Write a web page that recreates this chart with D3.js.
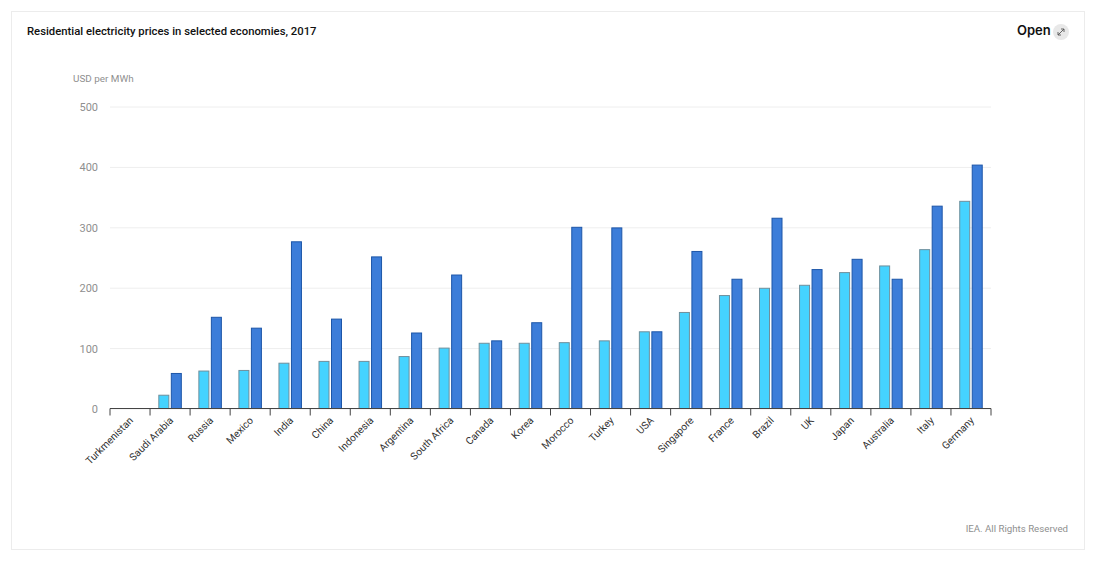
<!DOCTYPE html>
<html>
<head>
<meta charset="utf-8">
<script src="https://cdn.jsdelivr.net/npm/d3@7"></script>
<style>
html, body { margin: 0; padding: 0; background: #fff; }
svg { display: block; font-family: Roboto, "Noto Sans", sans-serif; }
</style>
</head>
<body>
<svg id="chart" width="1100" height="567"></svg>
<script>
var categories = ['Turkmenistan', 'Saudi Arabia', 'Russia', 'Mexico', 'India', 'China', 'Indonesia',
    'Argentina', 'South Africa', 'Canada', 'Korea', 'Morocco', 'Turkey', 'USA', 'Singapore',
    'France', 'Brazil', 'UK', 'Japan', 'Australia', 'Italy', 'Germany'];
var lightValues = [0, 22, 62, 63, 75, 78, 78, 86, 100, 108, 108, 109, 112, 127, 159, 187, 199, 204, 225, 236, 263, 343];
var darkValues = [0, 58, 151, 133, 276, 148, 251, 125, 221, 112, 142, 300, 299, 127, 260, 214, 315, 230, 247, 214, 335, 403];
var yTicks = [0, 100, 200, 300, 400, 500];

var svg = d3.select('#chart');

// Card around the chart
svg.append('rect')
    .attr('x', 11.5).attr('y', 11.5)
    .attr('width', 1073).attr('height', 538)
    .style('fill', '#fff')
    .style('stroke', '#ececec');

svg.append('text')
    .attr('x', 27).attr('y', 35)
    .style('font-size', '11.3px')
    .style('font-weight', 500)
    .style('fill', '#111')
    .text('Residential electricity prices in selected economies, 2017');

svg.append('text')
    .attr('x', 1017).attr('y', 35)
    .style('font-family', 'Inter, sans-serif')
    .style('font-size', '13px')
    .style('font-weight', 600)
    .style('fill', '#111')
    .text('Open');

// Open button
var btn = svg.append('g').attr('transform', 'translate(1061, 32)');
btn.append('circle').attr('r', 8).style('fill', '#e8e8e8');
btn.append('path')
    .attr('d', 'M-3 3L3 -3M0 -3H3V0M-3 0V3H0')
    .style('fill', 'none')
    .style('stroke', '#555')
    .style('stroke-width', 0.9);

svg.append('text')
    .attr('x', 73).attr('y', 82)
    .style('font-size', '9.9px')
    .style('fill', '#8f8f8f')
    .text('USD per MWh');

svg.append('text')
    .attr('x', 1068).attr('y', 532)
    .attr('text-anchor', 'end')
    .style('font-size', '9.7px')
    .style('fill', '#8f8f8f')
    .text('IEA. All Rights Reserved');

var x = d3.scaleBand().domain(categories).range([110, 991]);
var y = d3.scaleLinear().domain([0, 500]).range([408.5, 106.5]);

// Horizontal grid and value labels
var yAxis = d3.axisLeft(y).tickValues(yTicks).tickSize(-881).tickPadding(12);
var gY = svg.append('g')
    .attr('transform', 'translate(110, 0)')
    .call(yAxis);
gY.select('path').style('display', 'none');
gY.selectAll('.tick line').style('stroke', '#eeeeee');
gY.selectAll('.tick text')
    .attr('dy', '0.36em')
    .style('font-family', 'Roboto, "Noto Sans", sans-serif')
    .style('font-size', '11px')
    .style('fill', '#8f8f8f');

var barWidth = 11;
var barGap = 1.5;

var groups = svg.append('g').selectAll('g')
    .data(categories)
    .enter()
    .append('g');

// Light bar on the left, dark bar on the right
groups.filter(function(d, i) { return lightValues[i] > 0; })
    .append('rect')
    .attr('x', function(d) { return x(d) + x.bandwidth() / 2 - barWidth - barGap / 2 + 0.5; })
    .attr('y', function(d) { return y(lightValues[categories.indexOf(d)]); })
    .attr('width', barWidth - 1)
    .attr('height', function(d) { return y(0) - y(lightValues[categories.indexOf(d)]); })
    .style('fill', '#45d3ff')
    .style('stroke', '#6f8f9c')
    .style('stroke-width', 1);

groups.filter(function(d, i) { return darkValues[i] > 0; })
    .append('rect')
    .attr('x', function(d) { return x(d) + x.bandwidth() / 2 + barGap / 2 + 0.5; })
    .attr('y', function(d) { return y(darkValues[categories.indexOf(d)]); })
    .attr('width', barWidth - 1)
    .attr('height', function(d) { return y(0) - y(darkValues[categories.indexOf(d)]); })
    .style('fill', '#3c7dd9')
    .style('stroke', '#1d56a8')
    .style('stroke-width', 1);

// Category axis, ticks sit on the band edges
var xAxis = d3.axisBottom(x).tickSize(0).tickPadding(10);
var gX = svg.append('g')
    .attr('transform', 'translate(0, 408.5)')
    .call(xAxis);
gX.select('path').style('stroke', '#444').attr('d', 'M110,0H991');
gX.selectAll('.tick text')
    .attr('transform', 'translate(-4, 2) rotate(-45)')
    .style('text-anchor', 'end')
    .attr('dx', '-2px')
    .attr('dy', '3px')
    .style('font-family', 'Roboto, "Noto Sans", sans-serif')
    .style('font-size', '10.2px')
    .style('fill', '#333');

var edges = categories.map(function(d) { return x(d); }).concat([991]);
gX.selectAll('line.edge')
    .data(edges)
    .enter()
    .append('line')
    .attr('class', 'edge')
    .attr('x1', function(d) { return d; })
    .attr('x2', function(d) { return d; })
    .attr('y1', 0)
    .attr('y2', 7)
    .style('stroke', '#444');
</script>
</body>
</html>
